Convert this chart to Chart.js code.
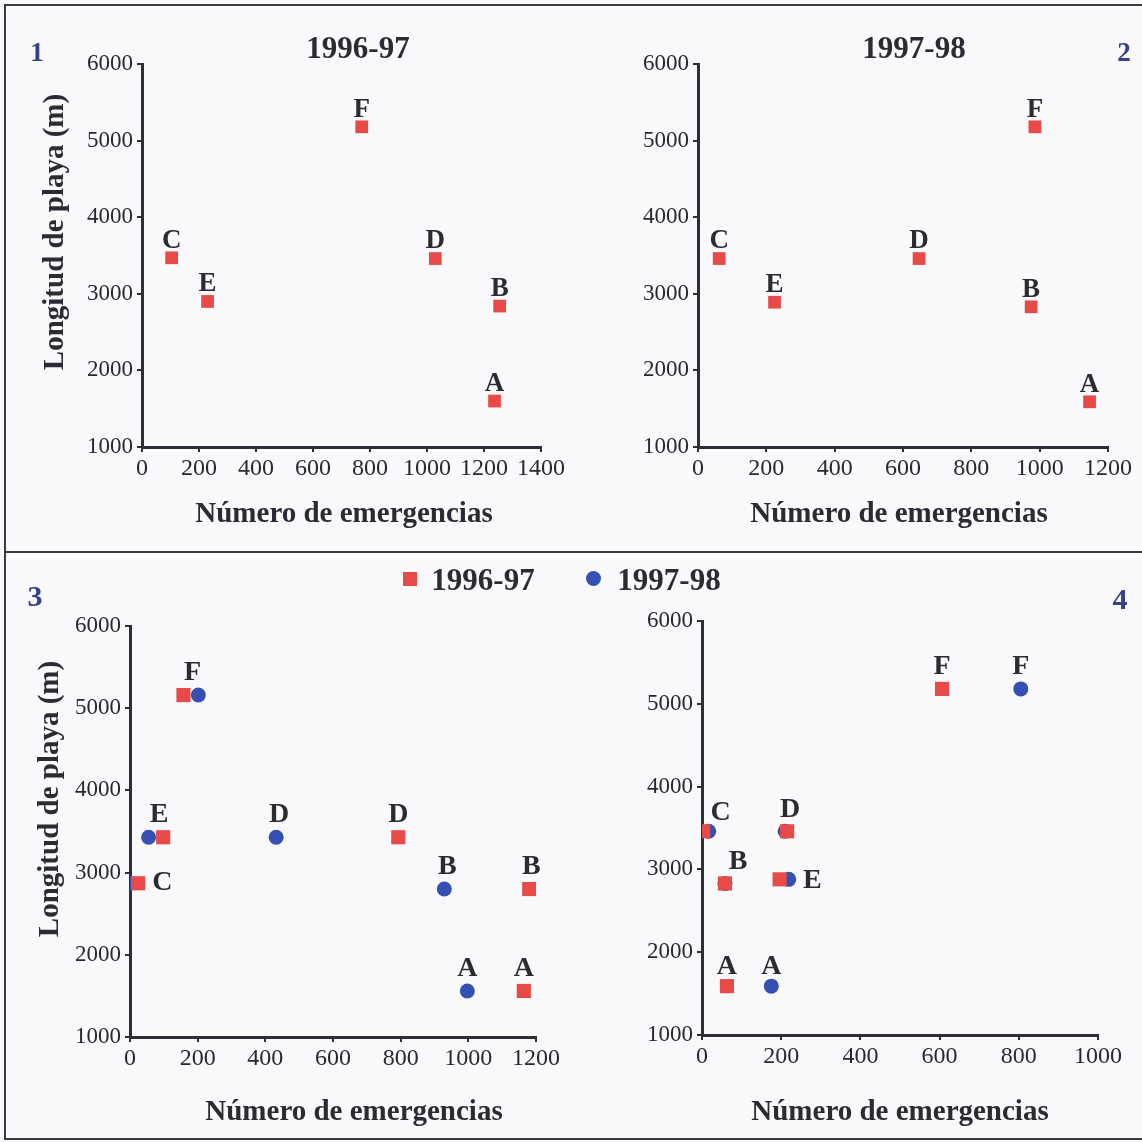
<!DOCTYPE html>
<html>
<head>
<meta charset="utf-8">
<script src="https://cdn.jsdelivr.net/npm/chart.js@4.4.1/dist/chart.umd.min.js"></script>
<style>
  html, body { margin: 0; padding: 0; background: #f9f9fc; }
  #fig { position: relative; width: 1142px; height: 1142px; overflow: hidden;
         font-family: "Liberation Serif", "Times New Roman", serif; color: #2b2b35; }
  canvas { position: absolute; }
  .txt { position: absolute; line-height: 1; white-space: nowrap; font-weight: bold;
         transform: translate(-50%, -50%); }
  .ytitle { transform: translate(-50%, -50%) rotate(-90deg); }
  .num { color: #34408a; }
  .rule { position: absolute; background: #3a3a46; }
  .key { position: absolute; }
</style>
</head>
<body>
<div id="fig">
  <div class="rule" style="left:4px;top:4px;width:1142px;height:2px"></div>
  <div class="rule" style="left:4px;top:551px;width:1142px;height:2px"></div>
  <div class="rule" style="left:4px;top:1138px;width:1142px;height:2px"></div>
  <div class="rule" style="left:4px;top:4px;width:2px;height:1136px"></div>

  <canvas id="c1"></canvas>
  <canvas id="c2"></canvas>
  <canvas id="c3"></canvas>
  <canvas id="c4"></canvas>

  <div class="txt num" style="left:37px;top:52px;font-size:27px">1</div>
  <div class="txt num" style="left:1124px;top:52px;font-size:27px">2</div>
  <div class="txt num" style="left:35px;top:596px;font-size:30px">3</div>
  <div class="txt num" style="left:1120px;top:599px;font-size:30px">4</div>

  <div class="txt" style="left:358px;top:47px;font-size:31px">1996-97</div>
  <div class="txt" style="left:914px;top:47px;font-size:31px">1997-98</div>

  <div class="txt" style="left:344px;top:512px;font-size:29px">Número de emergencias</div>
  <div class="txt" style="left:899px;top:512px;font-size:29px">Número de emergencias</div>
  <div class="txt" style="left:354px;top:1110px;font-size:29px">Número de emergencias</div>
  <div class="txt" style="left:900px;top:1110px;font-size:29px">Número de emergencias</div>
  <div class="txt ytitle" style="left:53px;top:232px;font-size:29px">Longitud de playa (m)</div>
  <div class="txt ytitle" style="left:48px;top:799px;font-size:29px">Longitud de playa (m)</div>

  <!-- leyenda común de las figuras 3 y 4 -->
  <div class="key" style="left:403px;top:572px;width:14px;height:14px;background:#e84a48"></div>
  <div class="txt" style="left:483px;top:579px;font-size:31px">1996-97</div>
  <div class="key" style="left:586px;top:571px;width:15px;height:15px;border-radius:50%;background:#3450b2"></div>
  <div class="txt" style="left:669px;top:579px;font-size:31px">1997-98</div>
</div>

<script>
// ---------- datos ----------
const beaches = ['A', 'B', 'C', 'D', 'E', 'F'];

// Fig. 1: temporada 1996-97
const emerg9697 = [1237, 1255, 104, 1029, 230, 771];
const length9697 = [1600, 2840, 3470, 3460, 2900, 5180];

// Fig. 2: temporada 1997-98
const emerg9798 = [1146, 975, 62, 647, 224, 986];
const length9798 = [1590, 2830, 3460, 3460, 2890, 5180];

// Fig. 3: las dos temporadas juntas
const p3Emerg9697 = [1164, 1180, 24, 793, 98, 158];
const p3Emerg9798 = [997, 929, 0, 432, 55, 202];
const p3Length = [1560, 2800, 2870, 3430, 3430, 5160];

// Fig. 4: las dos temporadas juntas
const p4Emerg9697 = [63, 58, 3, 215, 196, 606];
const p4Emerg9798 = [175, 58, 17, 210, 219, 805];
const p4Length = [1590, 2830, 3460, 3460, 2880, 5180];

// ejes
const yTicks = [1000, 2000, 3000, 4000, 5000, 6000];
const xStep = 200;
const xMax = [1400, 1200, 1200, 1000];

// ---------- estilo ----------
const RED = '#e84a48';
const BLUE = '#3450b2';
const INK = '#2e2e3a';
const SERIF = "'Liberation Serif', 'Times New Roman', serif";

Chart.defaults.font.family = SERIF;
Chart.defaults.font.size = 23;
Chart.defaults.color = '#282832';

// desplazamiento de cada letra respecto a su punto [dx, dy]; null = sin letra
const up1 = [0, -19];
const up2 = [0, -24];

const pointLetters = {
    id: 'letters',
    afterDatasetsDraw(chart, args, opts) {
        const ctx = chart.ctx;
        ctx.save();
        ctx.font = `bold ${opts.size}px ${SERIF}`;
        ctx.fillStyle = '#2b2b33';
        ctx.textBaseline = 'alphabetic';
        chart.data.datasets.forEach((ds, i) => {
            const meta = chart.getDatasetMeta(i);
            (ds.shift || []).forEach((s, j) => {
                if (!s) return;
                const el = meta.data[j];
                const left = s[0] > 15;
                ctx.textAlign = left ? 'left' : 'center';
                const x = el.x + s[0] - (left ? opts.size * 0.35 : 0);
                ctx.fillText(beaches[j], x, el.y + s[1] + opts.size * 0.33);
            });
        });
        ctx.restore();
    }
};

function pts(xs, ys) {
    return beaches.map((b, i) => ({ x: xs[i], y: ys[i] }));
}

function squares(xs, ys, r, shift) {
    return { data: pts(xs, ys), pointStyle: 'rect', pointRadius: r, pointBorderWidth: 0,
             backgroundColor: RED, borderColor: RED, shift: shift };
}

function dots(xs, ys, r, shift) {
    return { data: pts(xs, ys), pointStyle: 'circle', pointRadius: r, pointBorderWidth: 0,
             backgroundColor: BLUE, borderColor: BLUE, shift: shift };
}

function makePanel(id, box, area, xmax, datasets, letterSize) {
    const cv = document.getElementById(id);
    cv.width = box.w;
    cv.height = box.h;
    cv.style.left = box.x + 'px';
    cv.style.top = box.y + 'px';

    const grid = { drawOnChartArea: false, drawTicks: true, tickLength: 5, color: INK, lineWidth: 2 };
    const border = { display: true, color: INK, width: 3 };

    return new Chart(cv, {
        type: 'scatter',
        data: { datasets },
        options: {
            responsive: false,
            animation: false,
            devicePixelRatio: 1,
            layout: { padding: { top: area.t, right: box.w - area.r, left: 0, bottom: 0 } },
            plugins: {
                legend: { display: false },
                tooltip: { enabled: false },
                letters: { size: letterSize }
            },
            scales: {
                x: {
                    type: 'linear', min: 0, max: xmax,
                    ticks: { stepSize: xStep, font: { family: SERIF, size: 24 }, padding: 2,
                             callback: v => String(v) },
                    grid, border,
                    afterFit: s => { s.height = box.h - area.b; }
                },
                y: {
                    type: 'linear', min: yTicks[0], max: yTicks[yTicks.length - 1],
                    ticks: { stepSize: yTicks[1] - yTicks[0], font: { family: SERIF, size: 23 }, padding: 4,
                             callback: v => String(v) },
                    grid, border,
                    afterFit: s => { s.width = area.l; }
                }
            }
        },
        plugins: [pointLetters]
    });
}

// Fig. 1
makePanel('c1', { x: 0, y: 0, w: 571, h: 552 }, { l: 142, r: 541, t: 64, b: 447 }, xMax[0], [
    squares(emerg9697, length9697, 9, [up1, up1, up1, up1, up1, up1])
], 27);

// Fig. 2
makePanel('c2', { x: 571, y: 0, w: 571, h: 552 }, { l: 127, r: 537, t: 64, b: 447 }, xMax[1], [
    squares(emerg9798, length9798, 9, [up1, up1, up1, up1, up1, up1])
], 27);

// Fig. 3
makePanel('c3', { x: 0, y: 552, w: 571, h: 590 }, { l: 130, r: 536, t: 74, b: 485 }, xMax[2], [
    squares(p3Emerg9697, p3Length, 10, [up2, [2, -24], [24, -3], up2, [-4, -24], [9, -24]]),
    dots(p3Emerg9798, p3Length, 7.5, [up2, [3, -24], null, [3, -24], null, null])
], 28);

// Fig. 4
makePanel('c4', { x: 571, y: 552, w: 571, h: 590 }, { l: 131, r: 527, t: 69, b: 483 }, xMax[3], [
    squares(p4Emerg9697, p4Length, 10, [[0, -21], [13, -24], [17, -21], [3, -24], null, up2]),
    dots(p4Emerg9798, p4Length, 7.5, [[0, -21], null, null, null, [24, -1], up2])
], 28);
</script>
</body>
</html>
